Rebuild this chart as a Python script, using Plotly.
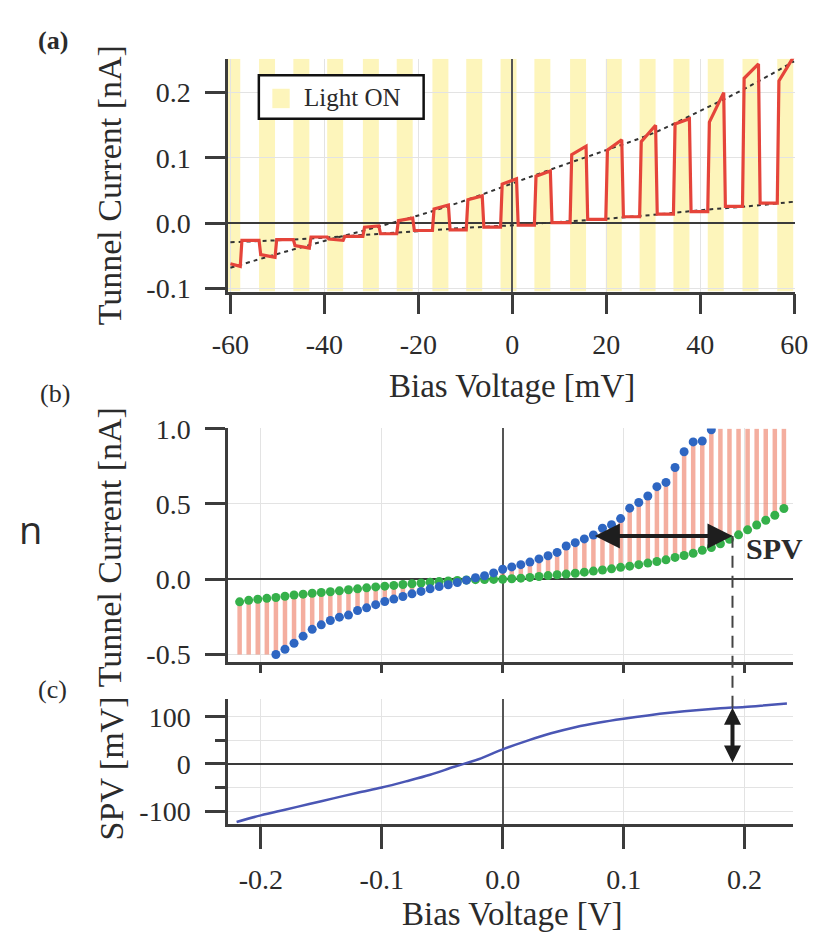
import plotly.graph_objects as go

W, H = 826, 946
SERIF = "Liberation Serif, Times New Roman, serif"
INK = "#2b2b2b"
AXIS = "#3c3c3c"
GRID = "#e3e3e3"

# ---------------- Panel (a): chopped-light tunnel current ----------------
stripe_start_mV = [-61.3, -53.9, -46.6, -39.4, -31.8, -24.6, -17.0, -9.8, -2.5,
                   4.7, 12.3, 19.9, 27.1, 34.3, 41.6, 49.0, 56.4]
stripe_width_mV = 3.4
on_start_nA = [-0.062, -0.048, -0.034, -0.024, -0.006, 0.004, 0.022, 0.036, 0.060,
               0.072, 0.105, 0.112, 0.125, 0.152, 0.155, 0.222, 0.218]
on_end_nA = [-0.066, -0.052, -0.038, -0.026, -0.004, 0.008, 0.028, 0.042, 0.068,
             0.080, 0.118, 0.128, 0.150, 0.160, 0.200, 0.244, 0.254]
off_nA = [-0.026, -0.025, -0.021, -0.020, -0.016, -0.011, -0.010, -0.006, -0.003,
          0.001, 0.006, 0.010, 0.014, 0.018, 0.026, 0.031]
trace_start_mV, trace_end_mV = -60.0, 60.0

fit_V_mV = [-60, -50, -40, -30, -20, -10, 0, 10, 20, 30, 40, 50, 60]
fit_on_nA = [-0.068, -0.047, -0.027, -0.008, 0.012, 0.035, 0.061, 0.087, 0.112,
             0.138, 0.172, 0.208, 0.248]
fit_off_nA = [-0.029, -0.026, -0.022, -0.017, -0.012, -0.007, -0.003, 0.002, 0.007,
              0.013, 0.020, 0.026, 0.033]

a_xticks = [-60, -40, -20, 0, 20, 40, 60]
a_xticktext = ["-60", "-40", "-20", "0", "20", "40", "60"]
a_yticks = [-0.1, 0.0, 0.1, 0.2]
a_yticktext = ["-0.1", "0.0", "0.1", "0.2"]

# ---------------- Panel (b): I-V with light off / on ----------------
bias_V = [-0.2175, -0.2100, -0.2025, -0.1950, -0.1875, -0.1800, -0.1725, -0.1650, -0.1575, -0.1500,
          -0.1425, -0.1350, -0.1275, -0.1200, -0.1125, -0.1050, -0.0975, -0.0900, -0.0825, -0.0750,
          -0.0675, -0.0600, -0.0525, -0.0450, -0.0375, -0.0300, -0.0225, -0.0150, -0.0075, 0.0000,
          0.0075, 0.0150, 0.0225, 0.0300, 0.0375, 0.0450, 0.0525, 0.0600, 0.0675, 0.0750,
          0.0825, 0.0900, 0.0975, 0.1050, 0.1125, 0.1200, 0.1275, 0.1350, 0.1425, 0.1500,
          0.1575, 0.1650, 0.1725, 0.1800, 0.1875, 0.1950, 0.2025, 0.2100, 0.2175, 0.2250, 0.2325]
I_dark_nA = [-0.150, -0.140, -0.133, -0.127, -0.121, -0.113, -0.105, -0.099, -0.093, -0.088,
             -0.083, -0.077, -0.070, -0.064, -0.057, -0.051, -0.046, -0.041, -0.035, -0.030,
             -0.025, -0.020, -0.015, -0.011, -0.008, -0.005, -0.003, -0.002, -0.001, 0.000,
             0.003, 0.007, 0.012, 0.018, 0.024, 0.030, 0.034, 0.040, 0.047, 0.054,
             0.061, 0.069, 0.079, 0.087, 0.097, 0.107, 0.118, 0.129, 0.145, 0.158,
             0.172, 0.192, 0.211, 0.236, 0.265, 0.295, 0.328, 0.360, 0.392, 0.425, 0.470]
I_light_nA = [None, None, None, None,
              -0.500, -0.465, -0.425, -0.378, -0.333, -0.303, -0.274, -0.252, -0.238, -0.208,
              -0.190, -0.169, -0.148, -0.132, -0.115, -0.097, -0.081, -0.064, -0.049, -0.037,
              -0.022, -0.006, 0.010, 0.023, 0.042, 0.066, 0.082, 0.097, 0.114, 0.135,
              0.156, 0.178, 0.221, 0.243, 0.268, 0.294, 0.339, 0.362, 0.403, 0.472,
              0.510, 0.553, 0.615, 0.643, 0.742, 0.847, 0.912, 0.918, 0.993,
              None, None, None, None, None, None, None, None]
stem_clip_low, stem_clip_high = -0.5, 1.0
spv_example_V = (0.075, 0.19)     # blue point -> green point at same current
spv_example_I = 0.288

b_yticks = [-0.5, 0.0, 0.5, 1.0]
b_yticktext = ["-0.5", "0.0", "0.5", "1.0"]
bc_xticks = [-0.2, -0.1, 0.0, 0.1, 0.2]
bc_xticktext = ["-0.2", "-0.1", "0.0", "0.1", "0.2"]

# ---------------- Panel (c): SPV vs bias ----------------
spv_V = [-0.22, -0.20, -0.18, -0.16, -0.14, -0.12, -0.10, -0.08, -0.06, -0.04, -0.02,
         0.00, 0.02, 0.04, 0.06, 0.08, 0.10, 0.12, 0.14, 0.16, 0.18, 0.20, 0.22, 0.235]
spv_mV = [-123, -109, -97, -85, -73, -61, -50, -37, -23, -6, 10,
          31, 49, 65, 78, 88, 96, 103, 109, 114, 118, 121, 125, 128]
spv_example_mV = 119
c_yticks = [-100, 0, 100]
c_yticktext = ["-100", "0", "100"]

# ---------------- layout geometry (pixels) ----------------
def px(x):
    return x / W

def py(y):
    return 1 - y / H

a_dom_x, a_dom_y = [px(220), px(808)], [py(285), py(45)]
b_dom_x, b_dom_y = [px(220), px(806)], [py(667), py(426)]
c_dom_x, c_dom_y = [px(220), px(806)], [py(834), py(705)]
a_rx, a_ry = [-60.51, 60.10], [-0.1045, 0.252]
bc_rx = [-0.2271, 0.2398]
b_ry = [-0.5515, 1.002]
c_ry = [-128, 137.5]

def to_paper_y(v, dom, rng):
    return dom[0] + (v - rng[0]) / (rng[1] - rng[0]) * (dom[1] - dom[0])

fig = go.Figure()

# (a) red trace built from stripe edges and plateau levels
rx, ry = [], []
lag = 0.35
for i, s in enumerate(stripe_start_mV):
    e = s + stripe_width_mV
    rx += [max(s + lag, trace_start_mV), min(e, trace_end_mV)]
    ry += [on_start_nA[i], on_end_nA[i]]
    if i < len(off_nA):
        rx += [e + lag, stripe_start_mV[i + 1]]
        ry += [off_nA[i], off_nA[i]]

fig.add_trace(go.Scatter(x=fit_V_mV, y=fit_off_nA, mode="lines", line=dict(color="#333", width=2, dash="4px,4px", shape="spline"),
                         xaxis="x", yaxis="y", showlegend=False))
fig.add_trace(go.Scatter(x=fit_V_mV, y=fit_on_nA, mode="lines", line=dict(color="#333", width=2, dash="4px,4px", shape="spline"),
                         xaxis="x", yaxis="y", showlegend=False))
fig.add_trace(go.Scatter(x=rx, y=ry, mode="lines", line=dict(color="#e5443a", width=3.2),
                         xaxis="x", yaxis="y", showlegend=False))

# (b) stems between dark and illuminated currents
sx, sy = [], []
for v, d, l in zip(bias_V, I_dark_nA, I_light_nA):
    top = l if l is not None else (stem_clip_low if v < 0 else stem_clip_high)
    sx += [v, v, None]
    sy += [d, top, None]
fig.add_trace(go.Scatter(x=sx, y=sy, mode="lines", line=dict(color="rgba(238,125,100,0.62)", width=4.5),
                         xaxis="x2", yaxis="y2", showlegend=False))
fig.add_trace(go.Scatter(x=bias_V, y=I_dark_nA, mode="markers", marker=dict(color="#35b04a", size=9),
                         xaxis="x2", yaxis="y2", showlegend=False))
fig.add_trace(go.Scatter(x=bias_V, y=I_light_nA, mode="markers", marker=dict(color="#2e66c2", size=9),
                         xaxis="x2", yaxis="y2", showlegend=False))

# (c) SPV curve
fig.add_trace(go.Scatter(x=spv_V, y=spv_mV, mode="lines", line=dict(color="#4a56b4", width=2.5, shape="spline"),
                         xaxis="x3", yaxis="y3", showlegend=False))

tickfont = dict(family=SERIF, size=28, color=INK)

def axis_common(**kw):
    d = dict(showline=True, linecolor=AXIS, linewidth=2.5, ticks="outside", tickcolor=AXIS,
             tickwidth=2.5, showgrid=True, gridcolor=GRID, gridwidth=1, tickfont=tickfont,
             zeroline=True, zerolinecolor="#3a3a3a", zerolinewidth=2, fixedrange=True)
    d.update(kw)
    return d

layout = dict(
    width=W, height=H, margin=dict(l=0, r=0, t=0, b=0),
    paper_bgcolor="white", plot_bgcolor="white", showlegend=False,
    xaxis=axis_common(domain=a_dom_x, range=a_rx, anchor="y", tickmode="array", tickvals=a_xticks,
                      ticktext=a_xticktext, ticklen=20, ticklabelstandoff=6, zerolinecolor="#555"),
    yaxis=axis_common(domain=a_dom_y, range=a_ry, anchor="x", tickmode="array", tickvals=a_yticks,
                      ticktext=a_yticktext, ticklen=20, ticklabelstandoff=9),
    xaxis2=axis_common(domain=b_dom_x, range=bc_rx, anchor="y2", tickmode="array", tickvals=bc_xticks,
                       showticklabels=False, ticklen=8, zerolinecolor="#555"),
    yaxis2=axis_common(domain=b_dom_y, range=b_ry, anchor="x2", tickmode="array", tickvals=b_yticks,
                       ticktext=b_yticktext, ticklen=20, ticklabelstandoff=9),
    xaxis3=axis_common(domain=c_dom_x, range=bc_rx, anchor="y3", tickmode="array", tickvals=bc_xticks,
                       ticktext=bc_xticktext, ticklen=22, ticklabelstandoff=6, zerolinecolor="#555"),
    yaxis3=axis_common(domain=c_dom_y, range=c_ry, anchor="x3", tickmode="array", tickvals=c_yticks,
                       ticktext=c_yticktext, ticklen=20, ticklabelstandoff=9,
                       minor=dict(tickvals=[-50, 50], ticklen=10, tickwidth=2.5, tickcolor=AXIS,
                                  ticks="outside", showgrid=True, gridcolor=GRID)),
)

shapes = []
for s in stripe_start_mV:
    shapes.append(dict(type="rect", xref="x", yref="y", x0=s, x1=s + stripe_width_mV,
                       y0=a_ry[0], y1=a_ry[1], fillcolor="#fdf5bb", line=dict(width=0), layer="below"))
# legend box of panel (a)
shapes.append(dict(type="rect", xref="paper", yref="paper", x0=px(252), x1=px(423), y0=py(107), y1=py(62),
                   fillcolor="white", line=dict(color="#111", width=2.5), layer="above"))
shapes.append(dict(type="rect", xref="paper", yref="paper", x0=px(266), x1=px(284), y0=py(96), y1=py(76),
                   fillcolor="#fdf5bb", line=dict(width=0), layer="above"))
# dashed guide linking (b) and (c)
shapes.append(dict(type="line", xref="x2", yref="paper", x0=spv_example_V[1], x1=spv_example_V[1],
                   y0=to_paper_y(spv_example_mV, c_dom_y, c_ry), y1=to_paper_y(spv_example_I, b_dom_y, b_ry),
                   line=dict(color="#444", width=2, dash="12px,8px"), layer="above"))
layout["shapes"] = shapes

ann = []
def text(x, y, t, size, angle=0, bold=False, family=SERIF, xanchor="center"):
    ann.append(dict(x=px(x), y=py(y), xref="paper", yref="paper", text=(f"<b>{t}</b>" if bold else t),
                    showarrow=False, textangle=angle, xanchor=xanchor, yanchor="middle",
                    font=dict(family=family, size=size, color=INK)))

text(38, 26, "(a)", 26, bold=True)
text(40, 390, "(b)", 26)
text(38, 695, "(c)", 26)
text(97, 175, "Tunnel Current [nA]", 34, angle=-90)
text(97, 548, "Tunnel Current [nA]", 34, angle=-90)
text(99, 776, "SPV [mV]", 34, angle=-90)
text(515, 382, "Bias Voltage [mV]", 33)
text(515, 926, "Bias Voltage [V]", 33)
text(297, 85, "Light ON", 25, xanchor="left")
text(755, 550, "SPV", 30, bold=True, xanchor="left")
text(15, 530, "n", 38, family="Open Sans, sans-serif")

# double arrows
ann.append(dict(x=spv_example_V[1], y=spv_example_I, ax=spv_example_V[0], ay=spv_example_I,
                xref="x2", yref="y2", axref="x2", ayref="y2", text="", showarrow=True,
                arrowside="end+start", arrowhead=2, startarrowhead=2, arrowsize=1.25, startarrowsize=1.25,
                arrowwidth=4, arrowcolor="#1e1e1e", standoff=0, startstandoff=0))
ann.append(dict(x=spv_example_V[1], y=spv_example_mV, ax=spv_example_V[1], ay=0,
                xref="x3", yref="y3", axref="x3", ayref="y3", text="", showarrow=True,
                arrowside="end+start", arrowhead=2, startarrowhead=2, arrowsize=0.85, startarrowsize=0.85,
                arrowwidth=4, arrowcolor="#1e1e1e", standoff=0, startstandoff=0))
layout["annotations"] = ann

fig.update_layout(**layout)
fig.write_html("out.html")
